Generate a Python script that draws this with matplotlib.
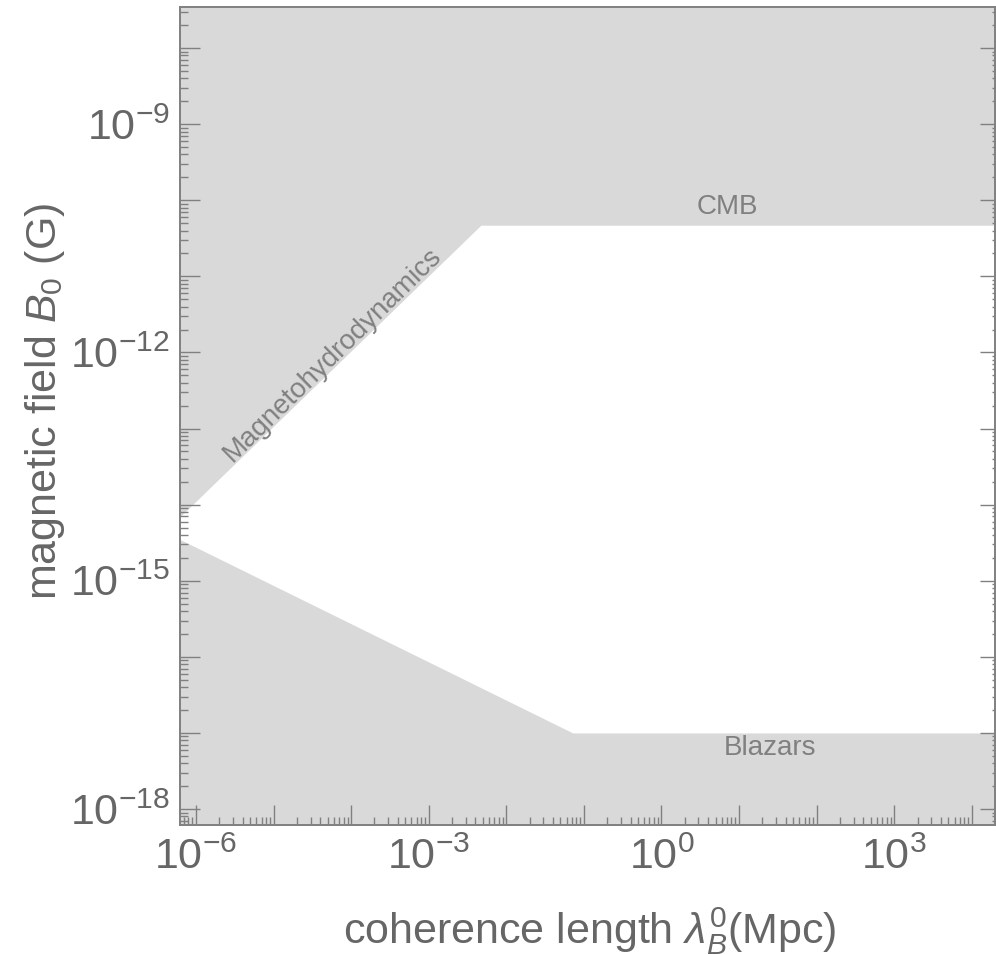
import numpy as np
import matplotlib
matplotlib.use("Agg")
import matplotlib.pyplot as plt
from matplotlib.ticker import LogLocator, NullFormatter

plt.rcParams['font.family'] = ['Liberation Sans', 'DejaVu Sans']
plt.rcParams['mathtext.fontset'] = 'custom'
plt.rcParams['mathtext.rm'] = 'Liberation Sans'
plt.rcParams['mathtext.it'] = 'Liberation Sans:italic'
plt.rcParams['mathtext.bf'] = 'Liberation Sans:bold'

# Bounds on the intergalactic magnetic field (lambda in Mpc, B in Gauss)
# upper bound: MHD (B ~ lambda) then CMB plateau
lam_upper = [6.2e-7, 4.7e-3, 2.0e4]
B_upper = [6.9e-15, 4.7e-11, 4.7e-11]
# lower bound: blazars (B ~ lambda^-1/2) then plateau
lam_lower = [6.2e-7, 7.2e-2, 2.0e4]
B_lower = [3.5e-15, 1.0e-17, 1.0e-17]

xexp = list(range(-6, 5))
yexp = list(range(-18, -7))

xlim = (10**-6.206, 10**4.3)
ylim = (10**-18.21, 10**-7.46)

gray = '#d9d9d9'
txt = '#666666'
ann = '#808080'
axc = '#808080'

fig = plt.figure(figsize=(9.96, 9.55), dpi=100)
ax = fig.add_axes([0.1807, 0.1361, 0.8183, 0.8566])

ax.set_xscale('log')
ax.set_yscale('log')

ax.fill_between(lam_upper, B_upper, ylim[1], color=gray, lw=0)
ax.fill_between(lam_lower, ylim[0], B_lower, color=gray, lw=0)

# labels of the excluded regions
ax.text(10**0.856, 10**-10.09, 'CMB', color=ann, fontsize=20,
        ha='center', va='center')
ax.text(10**1.397, 10**-17.2, 'Blazars', color=ann, fontsize=20,
        ha='center', va='center')
ax.text(10**-4.234, 10**-12.035, 'Magnetohydrodynamics', color=ann,
        fontsize=20, ha='center', va='center', rotation=44.4,
        rotation_mode='anchor')

# ticks: every decade, labels every third decade
ax.set_xticks([10.0**k for k in xexp])
ax.set_xticklabels(['' if k % 3 else r'$10^{%d}$' % k for k in xexp])
ax.set_yticks([10.0**k for k in yexp])
ax.set_yticklabels(['' if k % 3 else r'$10^{%d}$' % k for k in yexp])
ax.xaxis.set_minor_locator(LogLocator(base=10, subs=np.arange(2, 10), numticks=200))
ax.xaxis.set_minor_formatter(NullFormatter())
ax.yaxis.set_minor_locator(LogLocator(base=10, subs=np.arange(2, 10), numticks=200))
ax.yaxis.set_minor_formatter(NullFormatter())
ax.set_xlim(*xlim)
ax.set_ylim(*ylim)

ax.tick_params(axis='both', which='both', direction='in', color=axc,
               labelcolor=txt, labelsize=31, top=False, right=False)
ax.tick_params(which='major', length=14.4, width=1.0)
ax.tick_params(which='minor', length=5.5, width=1.0)
ax.tick_params(axis='x', pad=9)
ax.tick_params(axis='y', pad=7)

# right-hand ticks are shorter
ax2 = ax.twinx()
ax2.set_yscale('log')
ax2.set_yticks([10.0**k for k in yexp])
ax2.yaxis.set_minor_locator(LogLocator(base=10, subs=np.arange(2, 10), numticks=200))
ax2.set_ylim(*ylim)
ax2.tick_params(axis='y', which='both', direction='in', color=axc,
                labelright=False, width=1.0)
ax2.tick_params(which='major', length=11)
ax2.tick_params(which='minor', length=2.5)

for a in (ax, ax2):
    for s in a.spines.values():
        s.set_color(axc)
        s.set_linewidth(1.2)

ax.set_xlabel(r'coherence length $\lambda_B^0$(Mpc)', fontsize=31, color=txt,
              va='center')
ax.xaxis.set_label_coords(0.503, -0.129)
ax.set_ylabel(r'magnetic field $B_0$ (G)', fontsize=31, color=txt,
              va='center')
ax.yaxis.set_label_coords(-0.166, 0.518)

fig.savefig('out.png', dpi=100)
